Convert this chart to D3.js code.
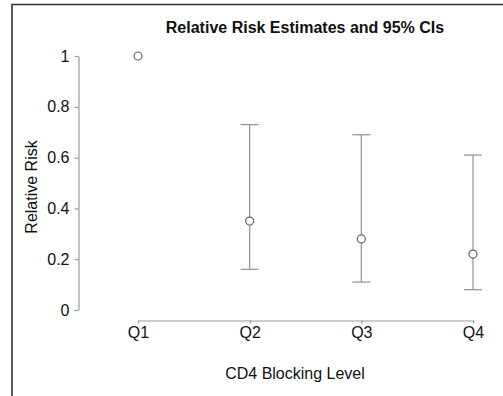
<!DOCTYPE html>
<html>
<head>
<meta charset="utf-8">
<script src="https://cdn.jsdelivr.net/npm/d3@7"></script>
<style>
  html, body { margin: 0; padding: 0; background: #fff; }
  svg { display: block; }
  text { font-family: "Liberation Sans", Arial, sans-serif; fill: #111; }
</style>
</head>
<body>
<svg id="chart" width="503" height="396"></svg>
<script>
const categories = ["Q1", "Q2", "Q3", "Q4"];
const estimates = [1, 0.35, 0.28, 0.22];
const lower = [null, 0.16, 0.11, 0.08];
const upper = [null, 0.73, 0.69, 0.61];
const yTicks = [0, 0.2, 0.4, 0.6, 0.8, 1];
const yTickLabels = ["0", "0.2", "0.4", "0.6", "0.8", "1"];
const title = "Relative Risk Estimates and 95% CIs";
const xTitle = "CD4 Blocking Level";
const yTitle = "Relative Risk";

const svg = d3.select("#chart");
const W = 503, H = 396;

// frame
svg.append("path")
  .attr("d", `M12,${H} V4.5 H${W}`)
  .attr("fill", "none")
  .attr("stroke", "#333")
  .attr("stroke-width", 1.6);

const x = d3.scalePoint().domain(categories).range([138, 473]).padding(0);
const y = d3.scaleLinear().domain([0, 1]).range([310, 56]);

const axisColor = "#999";

// y axis
const yAxis = svg.append("g")
  .attr("transform", "translate(78.5,0)")
  .call(d3.axisLeft(y).tickValues(yTicks)
    .tickFormat((d, i) => yTickLabels[i]).tickSizeOuter(0).tickSizeInner(4).tickPadding(5));
yAxis.select(".domain").attr("stroke", axisColor).attr("stroke-width", 1.2);
yAxis.selectAll(".tick line").attr("stroke", axisColor).attr("stroke-width", 1.2);
yAxis.selectAll(".tick text").style("font-size", "16px").attr("fill", "#111")
  .style("font-family", "'Liberation Sans', Arial, sans-serif");
yAxis.attr("font-size", null).attr("font-family", null);

// x axis
const xAxis = svg.append("g")
  .attr("transform", "translate(0,320.5)")
  .call(d3.axisBottom(x).tickSizeOuter(0).tickSizeInner(3).tickPadding(3));
xAxis.select(".domain").attr("stroke", axisColor).attr("stroke-width", 1.2);
xAxis.selectAll(".tick line").attr("stroke", axisColor).attr("stroke-width", 1.2);
xAxis.selectAll(".tick text").style("font-size", "16px").attr("fill", "#111")
  .style("font-family", "'Liberation Sans', Arial, sans-serif");
xAxis.attr("font-size", null).attr("font-family", null);

// error bars
const data = categories.map((c, i) => ({ c, est: estimates[i], lo: lower[i], hi: upper[i] }));
const eb = svg.append("g").attr("stroke", "#999").attr("stroke-width", 1.3).attr("fill", "none");
const withCI = data.filter(d => d.lo != null);
eb.selectAll(".v").data(withCI).join("line")
  .attr("x1", d => x(d.c)).attr("x2", d => x(d.c))
  .attr("y1", d => y(d.lo)).attr("y2", d => y(d.hi));
eb.selectAll(".capHi").data(withCI).join("line")
  .attr("x1", d => x(d.c) - 9).attr("x2", d => x(d.c) + 9)
  .attr("y1", d => y(d.hi)).attr("y2", d => y(d.hi));
eb.selectAll(".capLo").data(withCI).join("line")
  .attr("x1", d => x(d.c) - 9).attr("x2", d => x(d.c) + 9)
  .attr("y1", d => y(d.lo)).attr("y2", d => y(d.lo));

// points
svg.append("g").selectAll("circle").data(data).join("circle")
  .attr("cx", d => x(d.c)).attr("cy", d => y(d.est)).attr("r", 4)
  .attr("fill", "#fff").attr("stroke", "#666").attr("stroke-width", 1.2);

// titles
svg.append("text").attr("x", 305).attr("y", 33).attr("text-anchor", "middle")
  .style("font-size", "16px").style("font-weight", "bold").text(title);
svg.append("text").attr("x", 295).attr("y", 379).attr("text-anchor", "middle")
  .style("font-size", "16px").text(xTitle);
svg.append("text").attr("transform", "translate(37,187) rotate(-90)").attr("text-anchor", "middle")
  .style("font-size", "16px").text(yTitle);
</script>
</body>
</html>
